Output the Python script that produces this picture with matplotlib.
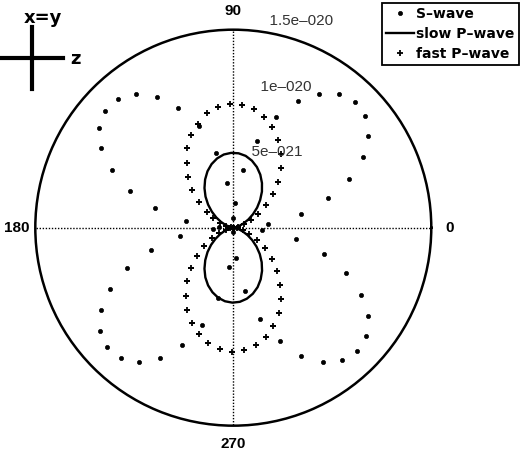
import numpy as np
import matplotlib
matplotlib.use('Agg')
import matplotlib.pyplot as plt
from matplotlib.lines import Line2D

# angles as in matlab 0:0.1:2*pi
theta = np.arange(0, 2 * np.pi, 0.1)

# amplitudes, in units of 1e-21
s_wave = [0.0, 2.67, 5.21, 7.52, 9.52, 11.22, 12.36, 13.09, 13.26, 12.92,
          12.05, 10.74, 8.97, 6.83, 4.45, 1.90, 0.77, 3.43, 5.82, 8.13,
          9.98, 11.50, 12.57, 13.11, 13.14, 12.67, 11.67, 10.17, 8.31, 6.11,
          3.64, 1.10, 1.54, 4.10, 6.48, 8.64, 10.43, 11.84, 12.77, 13.18,
          13.05, 12.42, 11.29, 9.70, 7.73, 5.46, 2.96, 0.33, 2.29, 4.87,
          7.23, 9.28, 10.99, 12.25, 13.00, 13.27, 13.00, 12.20, 10.95, 9.23,
          7.15, 4.80, 2.19]
slow_p = [0.0, 0.06, 0.22, 0.50, 0.86, 1.31, 1.81, 2.36, 2.92, 3.49,
          4.02, 4.51, 4.93, 5.27, 5.52, 5.65, 5.67, 5.59, 5.39, 5.09,
          4.70, 4.23, 3.71, 3.16, 2.59, 2.03, 1.51, 1.04, 0.64, 0.32,
          0.11, 0.01, 0.02, 0.14, 0.37, 0.70, 1.11, 1.59, 2.13, 2.69,
          3.25, 3.80, 4.32, 4.77, 5.14, 5.43, 5.61, 5.68, 5.64, 5.48,
          5.22, 4.87, 4.43, 3.93, 3.39, 2.83, 2.26, 1.72, 1.23, 0.79,
          0.44, 0.19, 0.04]
fast_p = [0.0, 0.09, 0.37, 0.82, 1.42, 2.16, 3.03, 3.95, 4.82, 5.76,
          6.62, 7.46, 8.16, 8.72, 9.12, 9.34, 9.35, 9.19, 8.89, 8.27,
          7.70, 6.99, 6.02, 5.15, 4.22, 3.28, 2.35, 1.67, 1.05, 0.54,
          0.19, 0.02, 0.03, 0.23, 0.61, 1.16, 1.84, 2.64, 3.52, 4.44,
          5.38, 6.29, 7.13, 7.88, 8.50, 8.97, 9.27, 9.39, 9.32, 9.06,
          8.63, 8.05, 7.33, 6.50, 5.61, 4.67, 3.74, 2.85, 2.03, 1.31,
          0.73, 0.31, 0.06]

r_ticks = [5, 10, 15]
r_labels = ['5e\u2013021', '1e\u2013020', '1.5e\u2013020']
ang_ticks = [0, 90, 180, 270]

W, H = 520, 453
fig = plt.figure(figsize=(W / 100, H / 100), dpi=100)
ax = fig.add_axes([0.0679, 0.0603, 0.7615, 0.8742], projection='polar')

ax.plot(theta, s_wave, 'o', color='k', ms=3.0, mew=0.5, label='S\u2013wave')
ax.plot(theta, slow_p, '-', color='k', lw=1.7, label='slow P\u2013wave')
ax.plot(theta, fast_p, '+', color='k', ms=5.0, mew=1.3, label='fast P\u2013wave')

ax.set_ylim(0, r_ticks[-1])
ax.set_yticks([])
ax.set_xticks(np.deg2rad(ang_ticks))
ax.set_xticklabels([])
ax.tick_params(length=0)
ax.xaxis.grid(True, linestyle=(0, (1, 1.2)), color='k', linewidth=1.0)
ax.spines['polar'].set_linewidth(1.8)

for a in ang_ticks:
    ax.text(np.deg2rad(a), 16.4, str(a), ha='center', va='center',
            family='Liberation Sans', fontweight='bold', fontsize=11, clip_on=False)

for r, lab in zip(r_ticks, r_labels):
    ax.text(np.deg2rad(82), r + 0.25, '  ' + lab, ha='left', va='bottom',
            family='Liberation Sans', fontsize=11, color='#333333', clip_on=False)

# orientation cross top left
fig.add_artist(Line2D([31.7 / W] * 2, [1 - 26.7 / H, 1 - 89.3 / H], lw=3, color='k'))
fig.add_artist(Line2D([0, 63.3 / W], [1 - 58.3 / H] * 2, lw=3, color='k'))
fig.text(42.8 / W, 1 - 23.3 / H, 'x=y', ha='center', va='baseline',
         fontweight='bold', fontsize=13)
fig.text(75.3 / W, 1 - 64 / H, 'z', ha='center', va='baseline',
         fontweight='bold', fontsize=13)

leg = ax.legend(loc='upper left', bbox_to_anchor=(381.7 / W, 1 - 3 / H),
                bbox_transform=fig.transFigure,
                prop=dict(family='DejaVu Sans', weight='bold', size=10),
                fancybox=False, edgecolor='k', framealpha=1, borderaxespad=0,
                borderpad=0.3, handlelength=2.0, handletextpad=0.2,
                labelspacing=0.42, numpoints=1)
leg.get_frame().set_linewidth(1.3)

fig.savefig('out.png', dpi=100)
